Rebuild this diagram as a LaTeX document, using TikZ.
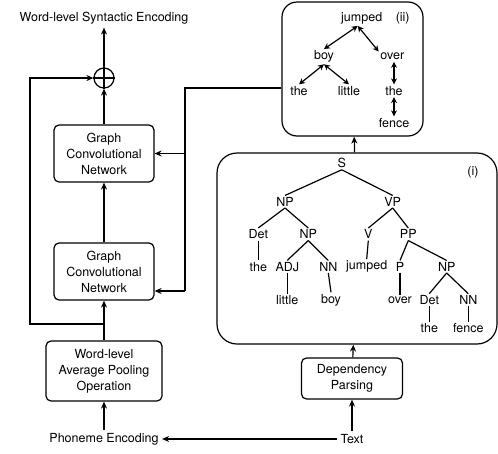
\documentclass[tikz,border=0pt]{standalone}
\usepackage{fontspec}
\setmainfont{TeX Gyre Heros}
\usetikzlibrary{arrows.meta}

\tikzset{
  blk/.style={draw, line width=1.2pt, rounded corners=5pt, align=center,
    minimum width=100pt, minimum height=57pt, inner sep=2pt},
  arr/.style={-{Stealth[length=7pt,width=6pt]}, line width=1.2pt},
  darr/.style={{Stealth[length=6pt,width=6pt]}-{Stealth[length=6pt,width=6pt]}, line width=1.2pt},
  tr/.style={inner sep=1.5pt},
  frame/.style={draw, line width=1.2pt}
}

\begin{document}
\begin{tikzpicture}[x=1pt,y=-1pt,font=\fontsize{12.5}{16}\selectfont]
\useasboundingbox (0,0) rectangle (498,453);

% left column
\node (out) at (104,18) {Word-level Syntactic Encoding};
\node[circle, draw, line width=1.2pt, minimum size=20pt, inner sep=0pt] (plus) at (104,78) {};
\draw[line width=1.2pt] (plus.north) -- (plus.south) (plus.west) -- (plus.east);
\node[blk] (gcn1) at (104,153.5) {Graph\\Convolutional\\Network};
\node[blk] (gcn2) at (104,271.5) {Graph\\Convolutional\\Network};
\node[blk, minimum width=116pt, minimum height=60pt] (pool) at (104,371) {Word-level\\Average Pooling\\Operation};
\node (phon) at (104,439) {Phoneme Encoding};

% right column
\node (text) at (352,439) {Text};
\node[blk, minimum width=101pt, minimum height=41pt] (dep) at (352,378.5) {Dependency\\Parsing};
\node[frame, rounded corners=20pt, minimum width=280pt, minimum height=191pt] (boxi) at (357,248.5) {};
\node[frame, rounded corners=15pt, minimum width=141pt, minimum height=134pt] (boxii) at (352.5,69) {};

% connectors
\draw[arr] (phon) -- (pool);
\draw[arr] (pool) -- (gcn2);
\draw[arr] (gcn2) -- (gcn1);
\draw[arr] (gcn1) -- (plus);
\draw[arr] (plus) -- (out);
\coordinate (j) at (104,324);
\coordinate (lc) at (30,78);
\draw[arr] (j) -| (lc) -- (plus.west);
\draw[arr] (text) -- (phon);
\draw[arr] (text) -- (dep);
\draw[arr] (dep) -- (boxi);
\draw[arr] (boxi) -- (boxii);
\coordinate (br) at (185,88);
\coordinate (bb) at (185,291);
\draw[line width=1.2pt] (boxii.west |- br) -- (br) -- (bb);
\draw[arr] (br |- gcn1) -- (gcn1);
\draw[arr] (bb) -- (bb -| gcn2.east);

% constituency tree (i)
\node (li) at (473,172) {(i)};
\node[tr] (s) at (341.7,163.3) {S};
\node[tr] (np) at (285,201.7) {NP};
\node[tr] (vp) at (392.7,201.7) {VP};
\node[tr] (det) at (258.3,234.3) {Det};
\node[tr] (npb) at (308.3,234.3) {NP};
\node[tr] (v) at (368.3,234.3) {V};
\node[tr] (pp) at (408.3,234.3) {PP};
\node[tr] (the) at (258.3,266.7) {the};
\node[tr] (adj) at (287.3,266.7) {ADJ};
\node[tr] (nn) at (328.3,266.7) {NN};
\node[tr] (jmp) at (366.7,266.7) {jumped};
\node[tr] (p) at (400,266.7) {P};
\node[tr] (npc) at (446.7,266.7) {NP};
\node[tr] (lit) at (287.3,300) {little};
\node[tr] (boy) at (331,300) {boy};
\node[tr] (ovr) at (400,300) {over};
\node[tr] (detb) at (429.3,300) {Det};
\node[tr] (nnb) at (468.3,300) {NN};
\node[tr] (theb) at (429.3,328.3) {the};
\node[tr] (fen) at (468.3,328.3) {fence};
\foreach \a/\b in {s/np,s/vp,np/det,np/npb,vp/v,vp/pp,det/the,npb/adj,npb/nn,
  v/jmp,pp/p,pp/npc,adj/lit,nn/boy,p/ovr,npc/detb,npc/nnb,detb/theb,nnb/fen}
  \draw[line width=1.2pt] (\a.south) -- (\b.north);

% dependency tree (ii)
\node (lii) at (402.7,18.3) {(ii)};
\node[tr] (dj) at (361.7,18.3) {jumped};
\node[tr] (db) at (324,56.7) {boy};
\node[tr] (do) at (392.3,56.7) {over};
\node[tr] (dt) at (299,90.7) {the};
\node[tr] (dl) at (349,90.7) {little};
\node[tr] (dtb) at (394,90.7) {the};
\node[tr] (df) at (394,122.7) {fence};
\draw[darr] ([xshift=-4pt]dj.south) -- (db.north);
\draw[darr] ([xshift=-4pt]dj.south) -- (do.north west);
\draw[darr] (db.south) -- (dt.north);
\draw[darr] (db.south) -- (dl.north);
\draw[darr] (do.south -| dtb) -- (dtb.north);
\draw[darr] (dtb.south) -- (df.north);
\end{tikzpicture}
\end{document}
